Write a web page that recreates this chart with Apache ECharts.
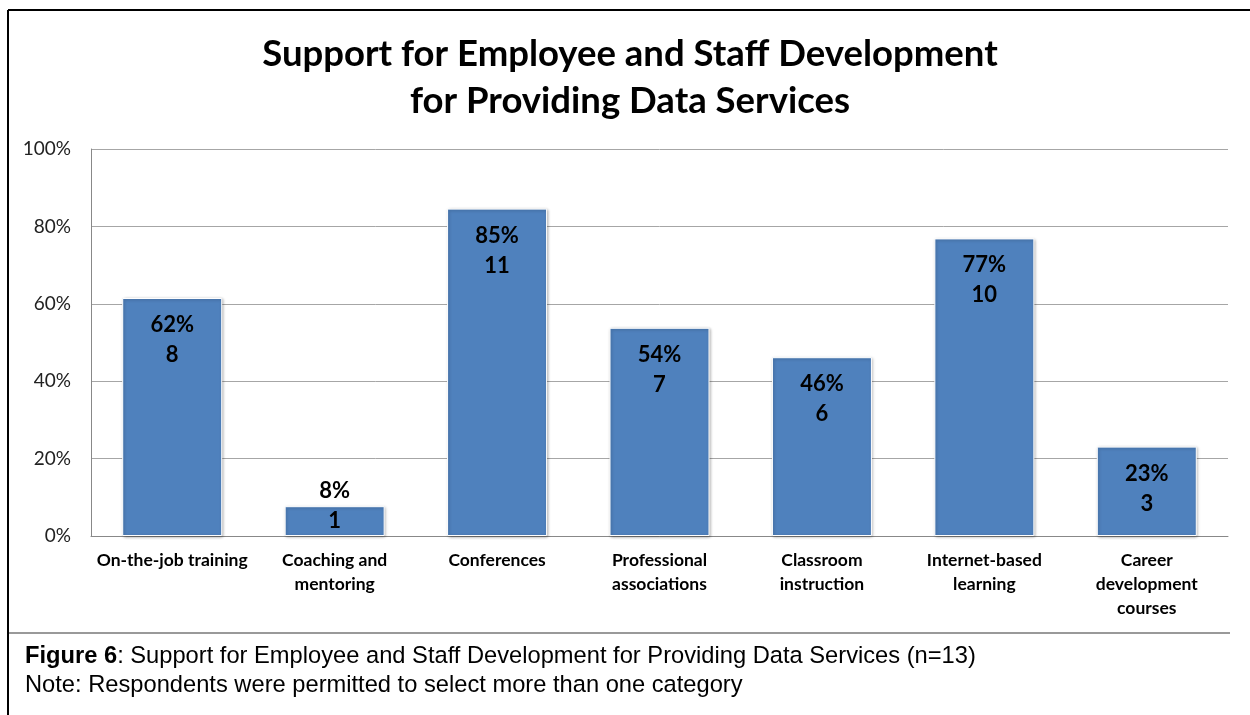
<!DOCTYPE html>
<html>
<head>
<meta charset="utf-8">
<script src="https://cdn.jsdelivr.net/npm/echarts@6/dist/echarts.min.js"></script>
<style>html,body{margin:0;padding:0;background:#fff;}#c{width:1250px;height:715px;}</style>
</head>
<body>
<div id="c"></div>
<script>
var categories = ['On-the-job training', 'Coaching and\nmentoring', 'Conferences', 'Professional\nassociations', 'Classroom\ninstruction', 'Internet-based\nlearning', 'Career\ndevelopment\ncourses'];
var percents = [61.5, 7.7, 84.6, 53.8, 46.2, 76.9, 23.1];
var counts = [8, 1, 11, 7, 6, 10, 3];
var yTicks = [0, 20, 40, 60, 80, 100];

var chart = echarts.init(document.getElementById('c'));
var data = percents.map(function (v, i) {
  var item = { value: v };
  if (v < 15) {
    item.label = { offset: [0, -42] };
  }
  return item;
});
chart.setOption({
  animation: false,
  title: {
    text: 'Support for Employee and Staff Development\nfor Providing Data Services',
    left: 625, textAlign: 'center', top: 26,
    textStyle: { fontFamily: 'Lato', fontWeight: 'bold', fontSize: 36.5, lineHeight: 47, color: '#000' }
  },
  grid: { left: 91, right: 22, top: 149, bottom: 179 },
  xAxis: {
    type: 'category', data: categories,
    axisLine: { lineStyle: { color: '#888', width: 1 } },
    axisTick: { show: false },
    axisLabel: { interval: 0, fontFamily: 'Lato', fontWeight: 'bold', fontSize: 17.5, lineHeight: 24, color: '#000', margin: 12 }
  },
  yAxis: {
    type: 'value', min: 0, max: 100, interval: 20,
    axisLine: { show: true, lineStyle: { color: '#888', width: 1 } },
    axisTick: { show: false },
    splitLine: { lineStyle: { color: '#a6a6a6', width: 1 } },
    axisLabel: {
      formatter: function (v) { return yTicks.indexOf(v) >= 0 ? v + '%' : ''; },
      fontFamily: 'Lato', fontSize: 19, color: '#222', margin: 20
    }
  },
  series: [{
    type: 'bar', data: data, barWidth: 100,
    itemStyle: {
      color: '#4f81bd', borderColor: '#fff', borderWidth: 1,
      shadowBlur: 3, shadowColor: 'rgba(0,0,0,0.3)', shadowOffsetX: 1, shadowOffsetY: 1
    },
    label: {
      show: true, position: 'insideTop', distance: 12,
      formatter: function (p) { return Math.round(p.value) + '%\n' + counts[p.dataIndex]; },
      fontFamily: 'Lato', fontWeight: 'bold', fontSize: 22, lineHeight: 30, color: '#000'
    }
  }],
  graphic: [
    { type: 'line', shape: { x1: 8, y1: 10, x2: 1250, y2: 10 }, style: { stroke: '#000', lineWidth: 2 } },
    { type: 'line', shape: { x1: 8, y1: 10, x2: 8, y2: 715 }, style: { stroke: '#000', lineWidth: 2 } },
    { type: 'line', shape: { x1: 9, y1: 633, x2: 1230, y2: 633 }, style: { stroke: '#999', lineWidth: 2 } },
    {
      type: 'text', left: 25, top: 642,
      style: {
        text: '{b|Figure 6}: Support for Employee and Staff Development for Providing Data Services (n=13)\nNote: Respondents were permitted to select more than one category',
        fontFamily: 'Liberation Sans', fontSize: 23.7, lineHeight: 29, fill: '#000',
        rich: { b: { fontFamily: 'Liberation Sans', fontSize: 23.7, fontWeight: 'bold', lineHeight: 29 } }
      }
    }
  ]
});
</script>
</body>
</html>
